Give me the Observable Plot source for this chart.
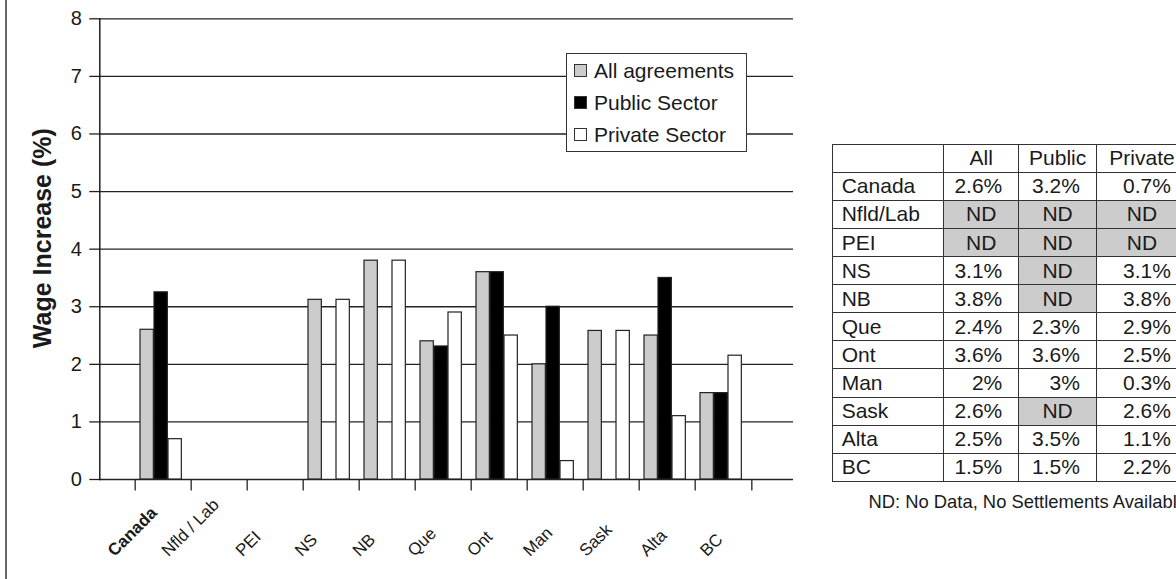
<!DOCTYPE html>
<html><head><meta charset="utf-8">
<script src="https://cdn.jsdelivr.net/npm/d3@7"></script>
<script src="https://cdn.jsdelivr.net/npm/@observablehq/plot@0.6"></script>
<style>
html,body{margin:0;padding:0;background:#fff;}
body{width:1176px;height:579px;overflow:hidden;position:relative;font-family:"Liberation Sans",Arial,Helvetica,sans-serif;color:#1a1a1a;}
#chart{position:absolute;left:0;top:0;}
#border{position:absolute;left:5px;top:0;width:1.5px;height:579px;background:#666;}
#legend{position:absolute;left:566px;top:53px;width:179px;height:97px;border:1.5px solid #333;background:#fff;}
#legend .item{position:absolute;left:0;height:32px;line-height:32px;font-size:21px;white-space:nowrap;}
#legend .sw{position:absolute;left:7px;top:9.5px;width:11px;height:11px;border:1px solid #333;}
#legend .lab{position:absolute;left:27px;top:0;}
#tbl{position:absolute;left:831.7px;top:143.7px;border-collapse:collapse;table-layout:fixed;font-size:21px;}
#tbl td{border:1.5px solid #333;padding:0;height:27.1px;line-height:26px;white-space:nowrap;overflow:hidden;}
#tbl td.name{text-align:left;padding-left:9px;}
#tbl td.num{text-align:right;padding-right:16px;}
#tbl td.nd{text-align:center;background:#cccccc;}
#tbl td.head{text-align:center;}
#note{position:absolute;left:0;top:490.7px;width:1187px;text-align:right;font-size:18.4px;line-height:22px;white-space:nowrap;}
</style></head><body>
<div id="border"></div>
<div id="chart"></div>
<div id="legend"></div>
<table id="tbl"></table>
<div id="note"></div>
<script>
// ---- data ----
const categories = ["Canada","Nfld / Lab","PEI","NS","NB","Que","Ont","Man","Sask","Alta","BC"];
const seriesNames = ["All agreements","Public Sector","Private Sector"];
const allAgreements = [2.6, null, null, 3.12, 3.8, 2.4, 3.6, 2.0, 2.58, 2.5, 1.5];
const publicSector  = [3.25, null, null, null, null, 2.31, 3.6, 3.0, null, 3.5, 1.5];
const privateSector = [0.7, null, null, 3.12, 3.8, 2.9, 2.5, 0.32, 2.58, 1.1, 2.15];
const yTicks = [0,1,2,3,4,5,6,7,8];
const yLabel = "Wage Increase (%)";
const tableHeader = ["","All","Public","Private"];
const tableRegions = ["Canada","Nfld/Lab","PEI","NS","NB","Que","Ont","Man","Sask","Alta","BC"];
const tableAll     = ["2.6%","ND","ND","3.1%","3.8%","2.4%","3.6%","2%","2.6%","2.5%","1.5%"];
const tablePublic  = ["3.2%","ND","ND","ND","ND","2.3%","3.6%","3%","ND","3.5%","1.5%"];
const tablePrivate = ["0.7%","ND","ND","3.1%","3.8%","2.9%","2.5%","0.3%","2.6%","1.1%","2.2%"];
const footnote = "ND: No Data, No Settlements Available";

// ---- styles ----
const fills = ["#cccccc","#000000","#ffffff"];
const seriesVals = [allAgreements, publicSector, privateSector];
const X0 = 131.7, X1 = 755;
const bw = (X1 - X0) / categories.length;
const insets = [[5, bw - 19], [19, bw - 33], [33, bw - 47]];
const rows = vals => categories.map((c, i) => ({c, v: vals[i]})).filter(d => d.v != null);
const ink = "#222";
const labelFont = 17;

const plot = Plot.plot({
  width: 800, height: 579,
  marginTop: 18.3, marginBottom: 100, marginLeft: 99.3, marginRight: 7,
  style: {fontFamily: "Liberation Sans, Arial, Helvetica, sans-serif", color: "#1a1a1a", background: "transparent", fontSize: "20px"},
  x: {type: "band", domain: categories, range: [X0, X1], padding: 0, axis: null},
  y: {domain: [0, 8]},
  marks: [
    Plot.ruleY(yTicks, {stroke: ink, strokeWidth: 1.3}),
    ...seriesVals.map((vals, k) => Plot.barY(rows(vals), {
      x: "c", y: "v", fill: fills[k], stroke: ink, strokeWidth: 1.2,
      insetLeft: insets[k][0], insetRight: insets[k][1]
    })),
    Plot.frame({anchor: "left", stroke: "#111", strokeWidth: 1.4}),
    Plot.axisY(yTicks, {tickSize: 10, tickPadding: 8, fontSize: 20, stroke: ink, strokeWidth: 1.3, tickFormat: d => String(d), label: null}),
    Plot.ruleX(categories, {x: d => d, y1: 0, y2: 0, dx: -bw / 2, insetBottom: -11.5, stroke: ink, strokeWidth: 1.3}),
    Plot.ruleX(categories.slice(-1), {x: d => d, y1: 0, y2: 0, dx: bw / 2, insetBottom: -11.5, stroke: ink, strokeWidth: 1.3}),
    Plot.text(categories.filter(c => c === "Canada"), {x: d => d, y: 0, text: d => d, rotate: -45, textAnchor: "middle", dx: -bw / 2 + 6.8, dy: 74, fontSize: labelFont, fontWeight: "bold", fill: "#1a1a1a"}),
    Plot.text(categories.filter(c => c !== "Canada"), {x: d => d, y: 0, text: d => d, rotate: -45, textAnchor: "middle", dx: -bw / 2 + 6.8, dy: 74, fontSize: labelFont, fill: "#1a1a1a"}),
    Plot.text([yLabel], {frameAnchor: "left", text: d => d, rotate: -90, textAnchor: "middle", dx: -56.5, dy: -11, fontSize: 25, fontWeight: "bold", fill: "#1a1a1a"})
  ]
});
document.getElementById("chart").append(plot);
// align the bottoms of the slanted category labels, and spread them slightly like the original
let li = 0;
plot.querySelectorAll("text").forEach(t => {
  const tr = t.getAttribute("transform") || "";
  if (!tr.includes("rotate(-45)")) return;
  const L = t.getComputedTextLength();
  const sx = 1.9 * (li - (categories.length - 1) / 2);
  t.setAttribute("transform", `translate(${sx.toFixed(2)},${(-0.3535 * L).toFixed(2)}) ` + tr);
  li++;
});

// ---- legend ----
const legend = document.getElementById("legend");
seriesNames.forEach((name, k) => {
  const item = document.createElement("div");
  item.className = "item";
  item.style.top = (0.7 + 32 * k) + "px";
  item.style.width = "179px";
  const sw = document.createElement("span");
  sw.className = "sw";
  sw.style.background = fills[k];
  const lab = document.createElement("span");
  lab.className = "lab";
  lab.textContent = name;
  item.append(sw, lab);
  legend.append(item);
});

// ---- table ----
const tbl = document.getElementById("tbl");
const colW = [111.6, 75, 77.7, 91];
const cg = document.createElement("colgroup");
colW.forEach(w => { const c = document.createElement("col"); c.style.width = w + "px"; cg.append(c); });
tbl.append(cg);
tbl.style.width = colW.reduce((a, b) => a + b, 0) + "px";
const hr = document.createElement("tr");
tableHeader.forEach(h => { const td = document.createElement("td"); td.className = "head"; td.textContent = h; hr.append(td); });
tbl.append(hr);
tableRegions.forEach((r, i) => {
  const tr = document.createElement("tr");
  const n = document.createElement("td"); n.className = "name"; n.textContent = r; tr.append(n);
  [tableAll[i], tablePublic[i], tablePrivate[i]].forEach(v => {
    const td = document.createElement("td");
    td.className = v === "ND" ? "nd" : "num";
    td.textContent = v;
    tr.append(td);
  });
  tbl.append(tr);
});
document.getElementById("note").textContent = footnote;
</script>
</body></html>
